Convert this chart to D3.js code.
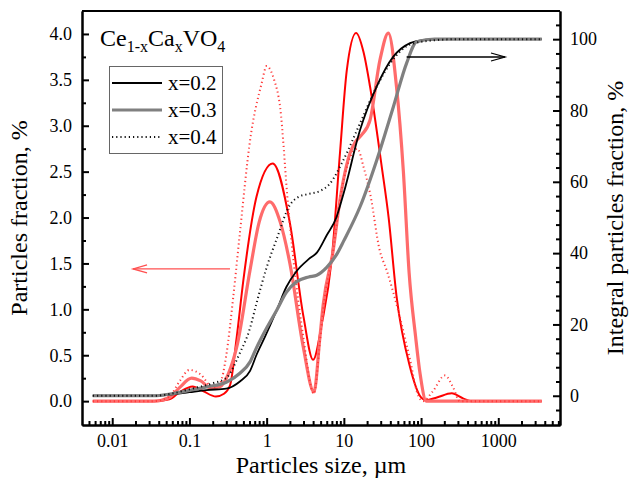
<!DOCTYPE html>
<html>
<head>
<meta charset="utf-8">
<script src="https://cdn.jsdelivr.net/npm/d3@7"></script>
<style>
  body { margin: 0; background: #fff; }
  text { font-family: "Liberation Serif", "Times New Roman", serif; fill: #000; }
</style>
</head>
<body>
<div id="chart"></div>
<script>
// particle size, um  ->  fraction, %
var dens02 = [[0.0056,0],[0.035,0],[0.055,0.02],[0.075,0.1],[0.11,0.16],[0.15,0.11],[0.22,0.05],[0.28,0.08],[0.335,0.17],[0.41,0.7],[0.5,1.32],[0.74,2.23],[1.2,2.59],[2.0,1.94],[3.0,0.92],[4.0,0.45],[5.2,0.85],[6.95,1.54],[8.9,2.7],[10.9,3.6],[14.4,4.01],[18,3.8],[21.8,3.43],[31,2.55],[38,2.0],[48,1.15],[72,0.37],[100,0.04],[115,0.01],[160,0.04],[250,0.085],[350,0.03],[450,0],[3660,0]];
var dens03 = [[0.0056,0],[0.035,0],[0.055,0.04],[0.075,0.15],[0.107,0.25],[0.14,0.22],[0.19,0.14],[0.25,0.16],[0.32,0.3],[0.41,0.59],[0.61,1.43],[0.8,1.95],[1.1,2.17],[1.5,1.95],[2.0,1.5],[2.98,0.59],[4.1,0.1],[4.9,0.7],[5.4,1.05],[7.3,1.65],[8.9,2.19],[12,2.7],[14,2.82],[17,2.9],[21.8,3.06],[29.4,3.72],[37.7,4.01],[48,3.43],[59,2.5],[70,1.4],[85,0.7],[97,0.3],[117,0],[3660,0]];
var dens04 = [[0.0056,0],[0.035,0],[0.055,0.05],[0.075,0.22],[0.1,0.34],[0.14,0.29],[0.2,0.15],[0.25,0.2],[0.3,0.5],[0.37,1.14],[0.45,1.83],[0.61,2.84],[0.86,3.46],[1.0,3.65],[1.25,3.5],[1.49,3.21],[1.9,2.12],[2.98,0.7],[4.1,0.08],[4.9,0.65],[5.4,1.0],[7.3,1.65],[8.9,2.19],[12,2.65],[15,2.75],[18,2.55],[22,2.25],[29,1.65],[36,1.42],[53,0.92],[72,0.45],[90,0.08],[106,0],[140,0.1],[204,0.28],[260,0.15],[317,0],[3660,0]];

// particle size, um  ->  integral fraction, %
var cum02 = [[0.0056,0],[0.035,0],[0.056,0.3],[0.1,1.0],[0.167,1.6],[0.3,2.0],[0.45,4.0],[0.61,7.0],[0.74,11.5],[0.95,16.5],[1.35,24],[1.8,30.5],[2.45,35],[3.5,38.3],[4.5,40.2],[6,45],[8,50],[10,57],[16.2,74.5],[26.6,86.7],[43.7,95.1],[72,98.9],[110,99.8],[200,100],[3660,100]];
var cum03 = [[0.0056,0],[0.035,0],[0.056,0.5],[0.1,1.5],[0.167,2.5],[0.3,3.8],[0.45,6.3],[0.61,9.5],[0.74,13.5],[1.0,19],[1.35,24],[1.8,29],[2.45,32],[3.5,33.3],[4.45,33.8],[6,36],[8,39.5],[10,43.5],[16.2,53],[26.6,66],[43.7,81],[65,93.3],[88,99.3],[150,100],[3660,100]];
var cum04 = [[0.0056,0],[0.035,0],[0.056,0.5],[0.1,1.8],[0.2,3.5],[0.3,5.0],[0.45,12],[0.6,18.5],[0.74,26],[1.0,36],[1.35,44],[2.0,53.5],[2.6,55.8],[3.3,56.5],[5,57.5],[6.6,59.5],[9.8,66],[16.2,76.4],[26.6,86.7],[43.7,94.4],[72,98.5],[150,99.7],[290,100],[3660,100]];

var xTickLabels = [0.01, 0.1, 1, 10, 100, 1000];
var yLeftTicks = [0, 0.5, 1, 1.5, 2, 2.5, 3, 3.5, 4];
var yRightTicks = [0, 20, 40, 60, 80, 100];
var legendLabels = ['x=0.2', 'x=0.3', 'x=0.4'];

// arrows in data units: [from size, to size, value]
var arrowLeft = [0.335, 0.0186, 1.44];
var arrowRight = [65, 1222, 95];

var W = 630, H = 492,
    L = 82, R = 560, T = 11, B = 425;

var svg = d3.select('#chart').append('svg')
  .attr('width', W).attr('height', H);

var x = d3.scaleLog().domain([0.00406, 6300]).range([L, R]),
    yL = d3.scaleLinear().domain([-0.26, 4.25]).range([B, T]),
    yR = d3.scaleLinear().domain([-8.2, 107.9]).range([B, T]);

var lineL = d3.line().x(function(d) { return x(d[0]); }).y(function(d) { return yL(d[1]); }).curve(d3.curveMonotoneX),
    lineR = d3.line().x(function(d) { return x(d[0]); }).y(function(d) { return yR(d[1]); }).curve(d3.curveMonotoneX);

var series = [
  { data: dens02, line: lineL, color: '#ff0000', width: 2, dash: null },
  { data: dens03, line: lineL, color: '#ff6b6b', width: 3.2, dash: null },
  { data: dens04, line: lineL, color: '#ff3a3a', width: 2, dash: '1.2,3' },
  { data: cum02, line: lineR, color: '#000', width: 1.8, dash: null },
  { data: cum03, line: lineR, color: '#808080', width: 3.2, dash: null },
  { data: cum04, line: lineR, color: '#111', width: 2, dash: '1.2,3' }
];

svg.selectAll('path.series')
  .data(series)
  .enter()
  .append('path')
  .attr('class', 'series')
  .attr('d', function(d) { return d.line(d.data); })
  .attr('fill', 'none')
  .attr('stroke', function(d) { return d.color; })
  .attr('stroke-width', function(d) { return d.width; })
  .attr('stroke-dasharray', function(d) { return d.dash; });

// axes, ticks pointing inwards
var xMinor = x.ticks().filter(function(d) { return xTickLabels.indexOf(d) < 0; });
var yLMinor = d3.range(0.25, 4, 0.5);
var yRMinor = d3.range(-4, 105, 4).filter(function(d) { return d % 20 !== 0; });

function styleAxis(g) {
  g.select('.domain').attr('stroke-width', 2);
  g.selectAll('.tick line').attr('stroke-width', 2);
  g.selectAll('.tick text').style('font-size', '18px').attr('fill', '#000');
}

svg.append('g').attr('transform', 'translate(0,' + B + ')')
  .call(d3.axisBottom(x).tickValues(xTickLabels).tickSizeInner(-7).tickSizeOuter(0).tickPadding(9)
    .tickFormat(function(d) { return String(d); }))
  .call(styleAxis);
svg.append('g').attr('transform', 'translate(0,' + B + ')')
  .call(d3.axisBottom(x).tickValues(xMinor).tickSizeInner(-4).tickSizeOuter(0).tickFormat(''))
  .call(styleAxis);

svg.append('g').attr('transform', 'translate(' + L + ',0)')
  .call(d3.axisLeft(yL).tickValues(yLeftTicks).tickSizeInner(-7).tickSizeOuter(0).tickPadding(10)
    .tickFormat(d3.format('.1f')))
  .call(styleAxis);
svg.append('g').attr('transform', 'translate(' + L + ',0)')
  .call(d3.axisLeft(yL).tickValues(yLMinor).tickSizeInner(-4).tickSizeOuter(0).tickFormat(''))
  .call(styleAxis);

svg.append('g').attr('transform', 'translate(' + R + ',0)')
  .call(d3.axisRight(yR).tickValues(yRightTicks).tickSizeInner(-7).tickSizeOuter(0).tickPadding(10))
  .call(styleAxis);
svg.append('g').attr('transform', 'translate(' + R + ',0)')
  .call(d3.axisRight(yR).tickValues(yRMinor).tickSizeInner(-4).tickSizeOuter(0).tickFormat(''))
  .call(styleAxis);

// top frame line
svg.append('line')
  .attr('x1', L).attr('x2', R).attr('y1', T).attr('y2', T)
  .attr('stroke', '#000').attr('stroke-width', 2);

// axis titles
svg.append('text')
  .attr('transform', 'translate(27,' + (T + B) / 2 + ') rotate(-90)')
  .attr('text-anchor', 'middle')
  .style('font-size', '24px')
  .text('Particles fraction, %');
svg.append('text')
  .attr('transform', 'translate(623,' + (T + B) / 2 + ') rotate(-90)')
  .attr('text-anchor', 'middle')
  .style('font-size', '24px')
  .text('Integral particles fraction, %');
svg.append('text')
  .attr('x', (L + R) / 2).attr('y', 473)
  .attr('text-anchor', 'middle')
  .style('font-size', '24px')
  .text('Particles size, \u00b5m');

// compound name
var title = svg.append('text').attr('x', 100).attr('y', 46).style('font-size', '24px');
title.append('tspan').text('Ce');
title.append('tspan').attr('dy', 6).style('font-size', '16px').text('1-x');
title.append('tspan').attr('dy', -6).text('Ca');
title.append('tspan').attr('dy', 6).style('font-size', '16px').text('x');
title.append('tspan').attr('dy', -6).text('VO');
title.append('tspan').attr('dy', 6).style('font-size', '16px').text('4');

// legend
var legend = svg.append('g');
legend.append('rect')
  .attr('x', 109.5).attr('y', 66.5).attr('width', 113).attr('height', 87)
  .attr('fill', '#fff').attr('stroke', '#666').attr('stroke-width', 1);

var legendItems = legend.selectAll('g.item')
  .data(legendLabels)
  .enter()
  .append('g')
  .attr('class', 'item')
  .attr('transform', function(d, i) { return 'translate(0,' + (83 + i * 27) + ')'; });

legendItems.append('line')
  .attr('x1', 112).attr('x2', 162)
  .attr('stroke', function(d, i) { return series[3 + i].color; })
  .attr('stroke-width', function(d, i) { return series[3 + i].width; })
  .attr('stroke-dasharray', function(d, i) { return series[3 + i].dash; });

legendItems.append('text')
  .attr('x', 168).attr('y', 7)
  .style('font-size', '21px')
  .text(function(d) { return d; });

// arrows
function arrow(x1, x2, y, color) {
  var dir = x2 > x1 ? -1 : 1;
  var g = svg.append('g').attr('stroke', color).attr('stroke-width', 1.3).attr('fill', 'none');
  g.append('line').attr('x1', x1).attr('x2', x2).attr('y1', y).attr('y2', y);
  g.append('path').attr('d', 'M' + (x2 + dir * 14) + ',' + (y - 4) + 'L' + x2 + ',' + y + 'L' + (x2 + dir * 14) + ',' + (y + 4));
}
arrow(x(arrowLeft[0]), x(arrowLeft[1]), yL(arrowLeft[2]), '#ff5050');
arrow(x(arrowRight[0]), x(arrowRight[1]), yR(arrowRight[2]), '#000');
</script>
</body>
</html>
